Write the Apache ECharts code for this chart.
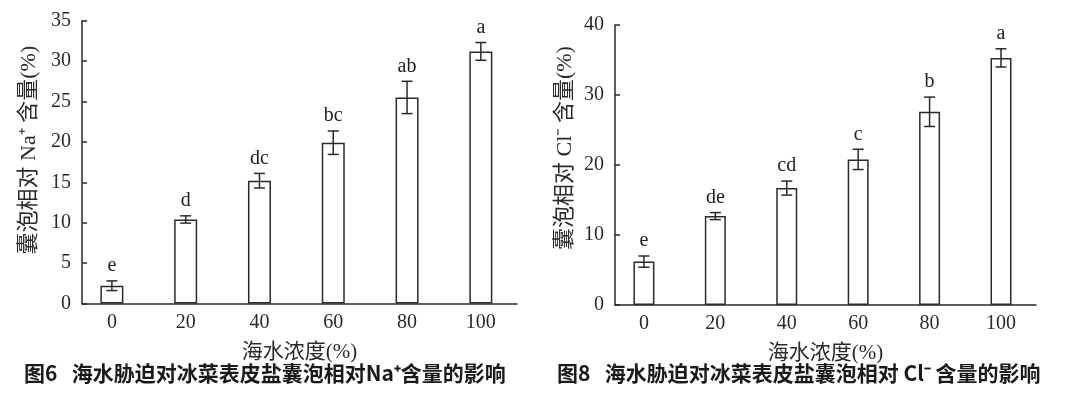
<!DOCTYPE html>
<html><head><meta charset="utf-8">
<script src="https://cdn.jsdelivr.net/npm/echarts@6/dist/echarts.min.js"></script>
<style>html,body{margin:0;padding:0;background:#fff}#c{width:1080px;height:393px}</style>
</head><body><div id="c"></div>
<script>
var concentrations = [0, 20, 40, 60, 80, 100];
var xTickLabels = ['0', '20', '40', '60', '80', '100'];
var naMean = [2.2, 10.4, 15.2, 19.9, 25.5, 31.2];
var naErr = [0.6, 0.45, 0.9, 1.45, 2.0, 1.1];
var naLetters = ['e', 'd', 'dc', 'bc', 'ab', 'a'];
var clMean = [6.2, 12.7, 16.7, 20.8, 27.6, 35.3];
var clErr = [0.8, 0.5, 1.0, 1.45, 2.1, 1.3];
var clLetters = ['e', 'de', 'cd', 'c', 'b', 'a'];

var serif = '"Liberation Serif", "Times New Roman", "Noto Sans CJK SC", serif';
var ink = '#2a2a2a';

function pairs(means) { return concentrations.map(function (c, i) { return [c, means[i]]; }); }
function errRows(means, errs, letters) {
  return concentrations.map(function (c, i) { return [c, means[i], errs[i], letters[i]]; });
}
function errRender(params, api) {
  var x = api.value(0), m = api.value(1), e = api.value(2);
  var letter = api.value(3);
  var hi = api.coord([x, m + e]), lo = api.coord([x, m - e]);
  var cap = 5.5;
  var st = { stroke: ink, lineWidth: 1.5 };
  return {
    type: 'group', children: [
      { type: 'line', shape: { x1: hi[0], y1: hi[1], x2: lo[0], y2: lo[1] }, style: st },
      { type: 'line', shape: { x1: hi[0] - cap, y1: hi[1], x2: hi[0] + cap, y2: hi[1] }, style: st },
      { type: 'line', shape: { x1: lo[0] - cap, y1: lo[1], x2: lo[0] + cap, y2: lo[1] }, style: st },
      { type: 'text', style: { text: letter, x: hi[0], y: hi[1] - 15, align: 'center', verticalAlign: 'middle', font: '20px ' + serif, fill: '#1e1e1e' } }
    ]
  };
}
function xAxisCfg(idx) {
  return {
    type: 'value', gridIndex: idx, min: -8.1, max: 109.8,
    name: '海水浓度(%)', nameLocation: 'middle', nameGap: 38,
    nameTextStyle: { fontFamily: serif, fontSize: 21, color: ink },
    axisLine: { onZero: false, lineStyle: { color: ink, width: 1.5 } },
    axisTick: { show: false },
    splitLine: { show: false },
    axisLabel: {
      customValues: concentrations, margin: 9,
      fontFamily: serif, fontSize: 20, color: ink,
      formatter: function (v) { return xTickLabels[concentrations.indexOf(v)]; }
    }
  };
}
function yAxisCfg(idx, max, interval, name, gap, pad) {
  return {
    type: 'value', gridIndex: idx, min: 0, max: max, interval: interval,
    name: name, nameLocation: 'middle', nameRotate: 90, nameGap: gap,
    nameTextStyle: { fontFamily: serif, fontSize: 22, color: ink, padding: pad },
    axisLine: { show: true, onZero: false, lineStyle: { color: ink, width: 1.5 } },
    axisTick: { show: true, inside: true, length: 5, lineStyle: { color: ink, width: 1.5 } },
    splitLine: { show: false },
    axisLabel: { margin: 11, fontFamily: serif, fontSize: 20, color: ink }
  };
}

var chart = echarts.init(document.getElementById('c'), null, { renderer: 'canvas' });
chart.setOption({
  backgroundColor: '#fff',
  animation: false,
  title: [
    { text: '图6   海水胁迫对冰菜表皮盐囊泡相对Na⁺含量的影响', left: 24, top: 363, padding: 0,
      textStyle: { fontFamily: '"Noto Sans CJK SC", sans-serif', fontSize: 21, fontWeight: 'bold', color: '#1a1a1a' } },
    { text: '图8   海水胁迫对冰菜表皮盐囊泡相对 Cl⁻ 含量的影响', left: 557, top: 363, padding: 0,
      textStyle: { fontFamily: '"Noto Sans CJK SC", sans-serif', fontSize: 21, fontWeight: 'bold', color: '#1a1a1a' } }
  ],
  grid: [
    { left: 82, right: 563, top: 20.7, bottom: 89.5 },
    { left: 615, right: 44, top: 25, bottom: 88 }
  ],
  xAxis: [xAxisCfg(0), xAxisCfg(1)],
  yAxis: [
    yAxisCfg(0, 35, 5, '囊泡相对 Na⁺ 含量(%)', 42, [0, 0, 0, 24]),
    yAxisCfg(1, 40, 10, '囊泡相对 Cl⁻ 含量(%)', 39, [0, 0, 0, 34])
  ],
  series: [
    { type: 'bar', xAxisIndex: 0, yAxisIndex: 0, barWidth: 23, data: pairs(naMean),
      itemStyle: { color: '#fff', borderColor: ink, borderWidth: 1.5 } },
    { type: 'custom', xAxisIndex: 0, yAxisIndex: 0, renderItem: errRender, data: errRows(naMean, naErr, naLetters), z: 5 },
    { type: 'bar', xAxisIndex: 1, yAxisIndex: 1, barWidth: 21, data: pairs(clMean),
      itemStyle: { color: '#fff', borderColor: ink, borderWidth: 1.5 } },
    { type: 'custom', xAxisIndex: 1, yAxisIndex: 1, renderItem: errRender, data: errRows(clMean, clErr, clLetters), z: 5 }
  ]
});
</script>
</body></html>
